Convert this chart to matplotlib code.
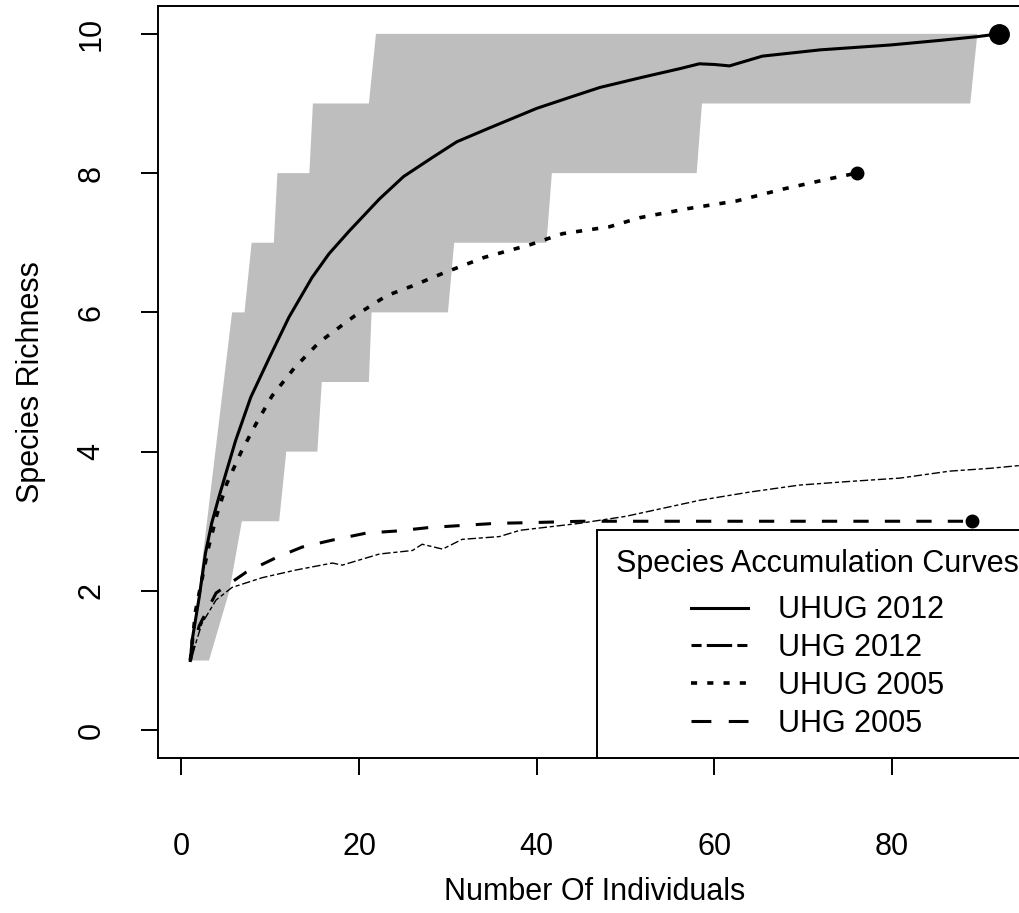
import numpy as np
import matplotlib
matplotlib.use("Agg")
import matplotlib.pyplot as plt
from matplotlib.lines import Line2D

plt.rcParams['font.family'] = ['Liberation Sans', 'DejaVu Sans']

# UHUG 2012 (solid) species accumulation curve
uhug12_x = [1, 1.2, 2.0, 2.7, 3.4, 4.2, 5.1, 6.1, 7.8, 9.9, 12.1, 14.7, 16.6, 18.9,
            22.3, 25.0, 28.2, 31.0, 34.7, 40.0, 44.0, 47.1, 52.0, 56.1, 58.3, 60.0,
            61.7, 65.4, 71.9, 79.8, 85.7, 89.6, 92]
uhug12_y = [1, 1.29, 1.91, 2.54, 2.97, 3.34, 3.73, 4.16, 4.78, 5.35, 5.93, 6.5, 6.84, 7.17,
            7.63, 7.95, 8.22, 8.45, 8.65, 8.93, 9.1, 9.23, 9.38, 9.5, 9.57, 9.56,
            9.54, 9.68, 9.77, 9.84, 9.91, 9.96, 10]

# confidence band for UHUG 2012 (step boundaries)
band_up_x = [1, 5.7, 7.1, 7.9, 10.4, 10.8, 14.4, 14.8, 21.1, 21.9, 89.6]
band_up_y = [1, 6, 6, 7, 7, 8, 8, 9, 9, 10, 10]
band_lo_x = [1, 3.1, 5.4, 6.8, 11.0, 11.8, 15.3, 15.8, 21.1, 21.4, 30.0, 30.7,
             41.1, 41.7, 58.0, 58.6, 88.8]
band_lo_y = [1, 1, 2, 3, 3, 4, 4, 5, 5, 6, 6, 7, 7, 8, 8, 9, 9]

# UHG 2012 (thin dot-dash)
uhg12_x = [1, 2.3, 3.9, 5.7, 9.1, 12.9, 17.0, 18.1, 22.3, 26.0, 27.1, 29.4, 31.6,
           35.8, 38.1, 44.8, 50, 58.3, 64, 69.6, 75, 80.9, 86.5, 91, 96]
uhg12_y = [1, 1.53, 1.87, 2.05, 2.19, 2.30, 2.40, 2.37, 2.53, 2.58, 2.67, 2.60, 2.74,
           2.78, 2.87, 2.97, 3.07, 3.30, 3.42, 3.52, 3.57, 3.62, 3.72, 3.76, 3.82]

# UHUG 2005 (dotted)
uhug05_x = [1, 1.6, 3, 4, 5.1, 6.7, 8.4, 10.2, 12.7, 15.5, 19.4, 23.1, 26, 29.6,
            34.1, 39.2, 42.9, 48.2, 51.6, 57, 62.5, 67.7, 73, 76]
uhug05_y = [1, 1.72, 2.6, 3.1, 3.54, 3.99, 4.4, 4.8, 5.2, 5.57, 5.94, 6.24, 6.38, 6.57,
            6.79, 6.97, 7.13, 7.23, 7.36, 7.49, 7.6, 7.77, 7.92, 8.0]

# UHG 2005 (dashed)
uhg05_x = [1, 2, 3.9, 7.3, 10.7, 13.6, 17, 20.8, 24.2, 27.9, 31.6, 35.4, 39.2,
           45, 50, 60, 70, 80, 89]
uhg05_y = [1, 1.5, 1.97, 2.27, 2.48, 2.63, 2.73, 2.83, 2.86, 2.91, 2.94, 2.97, 2.98,
           3.0, 3.0, 3.0, 3.0, 3.0, 3.0]

legend_labels = ['UHUG 2012', 'UHG 2012', 'UHUG 2005', 'UHG 2005']

fig = plt.figure(figsize=(10.2, 9.13), dpi=100)
ax = fig.add_axes([158 / 1020, 155 / 913, 873 / 1020, 752 / 913])

# grey band
poly_x = np.concatenate([band_up_x, band_lo_x[::-1]])
poly_y = np.concatenate([band_up_y, band_lo_y[::-1]])
ax.fill(poly_x, poly_y, color='#BEBEBE', lw=0, zorder=1)

ax.plot(uhug12_x, uhug12_y, color='black', lw=2.2, zorder=3)
ax.plot(uhug12_x[-1], uhug12_y[-1], 'o', color='black', ms=14, zorder=4)

ax.plot(uhg12_x, uhg12_y, color='black', lw=1.0, dashes=(3, 2, 6, 2), zorder=3)

ax.plot(uhug05_x, uhug05_y, color='black', lw=2.6, dashes=(1.7, 2.8), zorder=3)
ax.plot(uhug05_x[-1], uhug05_y[-1], 'o', color='black', ms=9, zorder=4)

ax.plot(uhg05_x, uhg05_y, color='black', lw=2.2, dashes=(5, 5.3), zorder=3)
ax.plot(uhg05_x[-1], uhg05_y[-1], 'o', color='black', ms=9, zorder=4)

ax.set_xlim(-2.64, 95.64)
ax.set_ylim(-0.4, 10.4)
ax.set_xticks([0, 20, 40, 60, 80])
ax.set_yticks([0, 2, 4, 6, 8, 10])

for s in ax.spines.values():
    s.set_linewidth(1.4)
ax.tick_params(axis='both', direction='out', length=12.2, width=1.4, labelsize=22)
ax.tick_params(axis='x', pad=41)
ax.tick_params(axis='y', pad=25, labelrotation=90)
for lab in ax.get_yticklabels():
    lab.set_va('center')

ax.set_xlabel('Number Of Individuals', fontsize=22, labelpad=11)
ax.set_ylabel('Species Richness', fontsize=22, labelpad=22)

handles = [
    Line2D([], [], color='black', lw=2.2),
    Line2D([], [], color='black', lw=2.2, dashes=(3.3, 1.7, 8.3, 1.7)),
    Line2D([], [], color='black', lw=2.6, dashes=(1.7, 2.8)),
    Line2D([], [], color='black', lw=2.2, dashes=(6.5, 5.7)),
]
leg = ax.legend(handles, legend_labels, title='Species Accumulation Curves',
                loc='lower left', bbox_to_anchor=(0.503, 0), borderaxespad=0,
                fontsize=22, title_fontsize=22, handlelength=1.87,
                handletextpad=0.98, labelspacing=0.26, borderpad=0.62,
                fancybox=False, edgecolor='black', framealpha=1)
# wider gap between title and entries, as in the original
leg._legend_box.sep = 12
leg.get_frame().set_linewidth(1.4)
leg.set_zorder(5)

fig.savefig('out.png', dpi=100)
